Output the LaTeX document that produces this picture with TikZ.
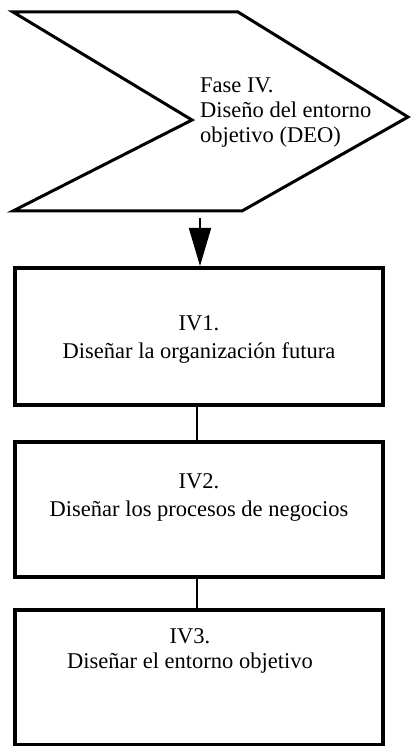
\documentclass[tikz,border=0pt]{standalone}
\usepackage{fontspec}
\setmainfont{Liberation Serif}
\usepackage{tikz}
\usetikzlibrary{arrows.meta}

\begin{document}
\begin{tikzpicture}[x=1pt,y=1pt,
  caja/.style={draw,line width=4pt,minimum width=368pt,inner sep=0pt},
  texto/.style={align=center,inner sep=0pt,anchor=north,font=\fontsize{22.5}{28}\selectfont},
  enlace/.style={line width=1.8pt}]
\useasboundingbox (0,0) rectangle (410,746);
\draw[line width=3pt,line join=miter] (13,734)--(238,734)--(408,629)--(242,535)--(13,535)--(192,626)--cycle;
\coordinate (salida) at (200,528);
\node[align=left,inner sep=0pt,anchor=north west,font=\fontsize{22.5}{25}\selectfont] (fase) at (200,668) {Fase IV.\\Diseño del entorno\\objetivo (DEO)};
\node[caja,minimum height=137pt] (iv1) at (199,409.5) {};
\node[caja,minimum height=135pt] (iv2) at (199,236.5) {};
\node[caja,minimum height=135pt] (iv3) at (199,68.5) {};
\node[texto] (t1) at (199,431) {IV1.\\Diseñar la organización futura};
\node[texto] (t2) at (199,273) {IV2.\\Diseñar los procesos de negocios};
\node[texto,font=\fontsize{22.5}{25}\selectfont] (t3) at (190,118) {IV3.\\Diseñar el entorno objetivo};
\draw[line width=1.8pt,-{Triangle[length=38pt,width=22pt]}] (salida) -- (salida |- iv1.north);
\draw[enlace] ([xshift=-2pt]iv1.south) -- ([xshift=-2pt]iv2.north);
\draw[enlace] ([xshift=-2pt]iv2.south) -- ([xshift=-2pt]iv3.north);
\end{tikzpicture}
\end{document}
